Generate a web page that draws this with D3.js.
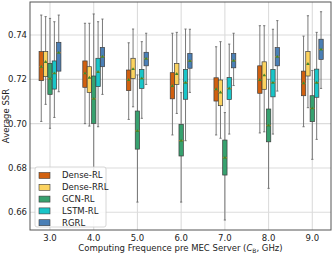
<!DOCTYPE html>
<html>
<head>
<meta charset="utf-8">
<script src="https://cdn.jsdelivr.net/npm/d3@7"></script>
<style>
  body { margin: 0; background: #fff; }
  svg { display: block; font-family: "DejaVu Sans", sans-serif; }
</style>
</head>
<body>
<svg id="chart" width="333" height="253"></svg>
<script>
// x categories (GHz)
const groups = ['3.0', '4.0', '5.0', '6.0', '7.0', '8.0', '9.0']
const seriesNames = ['Dense-RL', 'Dense-RRL', 'GCN-RL', 'LSTM-RL', 'RGRL']
const seriesColors = ['#d1600f', '#fcd35f', '#37a16f', '#19c5c8', '#4a7fb6']
const yTicks = [0.66, 0.68, 0.70, 0.72, 0.74]

// each row: [whisker low, q1, median, q3, whisker high]
const denseRL = [
  [0.701, 0.7194, 0.7257, 0.7325, 0.749],
  [0.700, 0.7164, 0.7227, 0.7283, 0.7453],
  [0.7019, 0.7149, 0.7197, 0.7242, 0.7365],
  [0.6949, 0.7112, 0.717, 0.723, 0.7408],
  [0.6949, 0.7102, 0.7155, 0.7207, 0.7347],
  [0.6958, 0.7137, 0.7197, 0.7261, 0.7442],
  [0.6986, 0.7126, 0.7182, 0.7237, 0.7395],
]
const denseRRL = [
  [0.7087, 0.7212, 0.7278, 0.7325, 0.7483],
  [0.6989, 0.7141, 0.7207, 0.7257, 0.7453],
  [0.7076, 0.7204, 0.7246, 0.7295, 0.7427],
  [0.7046, 0.7177, 0.7224, 0.7272, 0.7412],
  [0.6934, 0.7081, 0.7141, 0.7197, 0.737],
  [0.6963, 0.7155, 0.7218, 0.7279, 0.7442],
  [0.7072, 0.7215, 0.7269, 0.7325, 0.7487],
]
const gcnRL = [
  [0.6979, 0.7132, 0.7203, 0.7272, 0.7475],
  [0.676, 0.7001, 0.7112, 0.7215, 0.7495],
  [0.6646, 0.6885, 0.6967, 0.7057, 0.722],
  [0.6646, 0.6854, 0.6923, 0.6997, 0.714],
  [0.6565, 0.6768, 0.6846, 0.6926, 0.705],
  [0.6708, 0.6918, 0.6992, 0.7066, 0.720],
  [0.6839, 0.7009, 0.7069, 0.7126, 0.724],
]
const lstmRL = [
  [0.7028, 0.7156, 0.7227, 0.7283, 0.746],
  [0.6986, 0.7167, 0.7233, 0.7295, 0.746],
  [0.7024, 0.7159, 0.7204, 0.7245, 0.737],
  [0.6923, 0.711, 0.7185, 0.7245, 0.7427],
  [0.6953, 0.7109, 0.7159, 0.7208, 0.7359],
  [0.6953, 0.7121, 0.7185, 0.7245, 0.7426],
  [0.6929, 0.7119, 0.7185, 0.7246, 0.7412],
]
const rgrl = [
  [0.7144, 0.7237, 0.732, 0.7367, 0.749],
  [0.7132, 0.7257, 0.7302, 0.7344, 0.7472],
  [0.7177, 0.7261, 0.7293, 0.7322, 0.7408],
  [0.7141, 0.725, 0.7283, 0.7317, 0.7426],
  [0.7172, 0.7252, 0.7284, 0.7317, 0.7408],
  [0.7147, 0.7261, 0.7302, 0.7343, 0.7465],
  [0.7159, 0.729, 0.7335, 0.7381, 0.7505],
]
const seriesData = [denseRL, denseRRL, gcnRL, lstmRL, rgrl]

const svg = d3.select('#chart')

const plot = {left: 30, right: 331, top: 2, bottom: 230}

const x = d3.scalePoint()
    .domain(groups)
    .range([50, 312.3])

const y = d3.scaleLinear()
    .domain([0.652, 0.7549])
    .range([plot.bottom, plot.top])

const boxW = 4.37

// grid
const grid = svg.append('g').attr('class', 'grid')

grid.selectAll('line.h')
  .data(yTicks)
  .join('line')
    .attr('class', 'h')
    .attr('x1', plot.left)
    .attr('x2', plot.right)
    .attr('y1', d => y(d))
    .attr('y2', d => y(d))
    .attr('stroke', '#dcdcdc')
    .attr('stroke-width', 1.1)

grid.selectAll('line.v')
  .data(groups)
  .join('line')
    .attr('class', 'v')
    .attr('x1', d => x(d))
    .attr('x2', d => x(d))
    .attr('y1', plot.top)
    .attr('y2', plot.bottom)
    .attr('stroke', '#dcdcdc')
    .attr('stroke-width', 1.1)

// boxes
seriesData.forEach((rows, si) => {
  const off = (si - 2) * boxW
  const g = svg.append('g').attr('class', 'series')
  const items = g.selectAll('g')
    .data(rows.map((r, gi) => ({r, cx: x(groups[gi]) + off})))
    .join('g')

  items.append('line')
      .attr('x1', d => d.cx).attr('x2', d => d.cx)
      .attr('y1', d => y(d.r[0])).attr('y2', d => y(d.r[1]))
      .attr('stroke', '#6b6b6b').attr('stroke-width', 0.9)
  items.append('line')
      .attr('x1', d => d.cx).attr('x2', d => d.cx)
      .attr('y1', d => y(d.r[3])).attr('y2', d => y(d.r[4]))
      .attr('stroke', '#6b6b6b').attr('stroke-width', 0.9)
  items.selectAll('line.cap')
    .data(d => [d.r[0], d.r[4]].map(v => ({v, cx: d.cx})))
    .join('line')
      .attr('class', 'cap')
      .attr('x1', d => d.cx - boxW * 0.25).attr('x2', d => d.cx + boxW * 0.25)
      .attr('y1', d => y(d.v)).attr('y2', d => y(d.v))
      .attr('stroke', '#6b6b6b').attr('stroke-width', 0.9)

  items.append('rect')
      .attr('x', d => d.cx - boxW / 2)
      .attr('width', boxW)
      .attr('y', d => y(d.r[3]))
      .attr('height', d => y(d.r[1]) - y(d.r[3]))
      .attr('fill', seriesColors[si])
      .attr('stroke', '#3c3c3c')
      .attr('stroke-width', 0.7)

  items.append('line')
      .attr('x1', d => d.cx - boxW / 2).attr('x2', d => d.cx + boxW / 2)
      .attr('y1', d => y(d.r[2])).attr('y2', d => y(d.r[2]))
      .attr('stroke', '#e0802a').attr('stroke-width', 0.8)

  items.append('path')
      .attr('d', d3.symbol(d3.symbolTriangle, 5))
      .attr('transform', d => `translate(${d.cx},${y(d.r[2])})`)
      .attr('fill', '#3d8a2a')
})

// frame
svg.append('rect')
    .attr('x', plot.left)
    .attr('y', plot.top)
    .attr('width', plot.right - plot.left)
    .attr('height', plot.bottom - plot.top)
    .attr('fill', 'none')
    .attr('stroke', '#555')
    .attr('stroke-width', 1)

// tick labels
svg.append('g')
  .selectAll('text')
  .data(yTicks)
  .join('text')
    .attr('x', 27)
    .attr('y', d => y(d))
    .attr('dy', '0.35em')
    .attr('text-anchor', 'end')
    .attr('font-size', 8.5)
    .attr('fill', '#222')
    .text(d => d.toFixed(2))

svg.append('g')
  .selectAll('text')
  .data(groups)
  .join('text')
    .attr('x', d => x(d))
    .attr('y', 241)
    .attr('text-anchor', 'middle')
    .attr('font-size', 8.5)
    .attr('fill', '#222')
    .text(d => d)

// axis titles
svg.append('text')
    .attr('transform', `translate(9,${(plot.top + plot.bottom) / 2}) rotate(-90)`)
    .attr('text-anchor', 'middle')
    .attr('font-size', 8.5)
    .attr('fill', '#222')
    .text('Average SSR')

const xt = svg.append('text')
    .attr('x', (plot.left + plot.right) / 2)
    .attr('y', 251)
    .attr('text-anchor', 'middle')
    .attr('font-size', 8.5)
    .attr('fill', '#222')
xt.append('tspan').text('Computing Frequence pre MEC Server (')
xt.append('tspan').attr('font-style', 'italic').text('C')
xt.append('tspan').attr('font-size', 6).attr('dy', 1.5).text('B')
xt.append('tspan').attr('dy', -1.5).text(', GHz)')

// legend
const legend = svg.append('g').attr('transform', 'translate(35,167)')

legend.append('rect')
    .attr('width', 71)
    .attr('height', 60)
    .attr('rx', 2)
    .attr('fill', 'rgba(255,255,255,0.85)')
    .attr('stroke', '#ccc')
    .attr('stroke-width', 0.8)

const entries = legend.selectAll('g')
  .data(seriesNames)
  .join('g')
    .attr('transform', (d, i) => `translate(4,${5.5 + i * 11.8})`)

entries.append('rect')
    .attr('width', 11)
    .attr('height', 6)
    .attr('fill', (d, i) => seriesColors[i])
    .attr('stroke', '#3c3c3c')
    .attr('stroke-width', 0.6)

entries.append('text')
    .attr('x', 23)
    .attr('y', 3)
    .attr('dy', '0.35em')
    .attr('font-size', 8.5)
    .attr('fill', '#222')
    .text(d => d)
</script>
</body>
</html>
